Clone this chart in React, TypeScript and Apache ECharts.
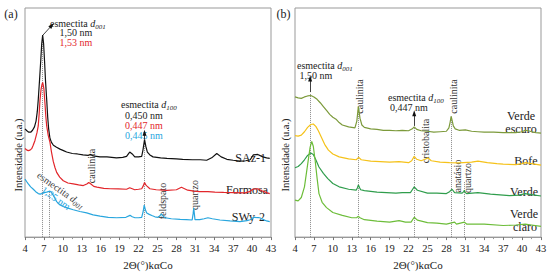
import React, { useEffect, useRef } from 'react';
import * as echarts from 'echarts';

const SERIF = "'Liberation Serif', 'Times New Roman', Times, serif";

// x axis: 2θ from 4 to 43, ticks every 3 (stored shifted by X0 so ticks start at a multiple of interval)
const X0 = 4;
const X_MAX = 43;
const X_INTERVAL = 3;
const Y_MAX = 237;

// Panel (a)
const saz1: [number, number][] = [
  [4.0, 112], [4.3, 110], [4.6, 108.5], [4.9, 108.5], [5.2, 110.5], [5.5, 114], [5.75, 120], [5.95, 130],
  [6.1, 142], [6.3, 162], [6.5, 183], [6.65, 200], [6.8, 209], [6.95, 200], [7.1, 182], [7.25, 162],
  [7.44, 142], [7.6, 124], [7.75, 112], [7.96, 102], [8.2, 98], [8.5, 95], [9.0, 93], [9.55, 91],
  [10.1, 89.5], [10.6, 88], [11.5, 86.5], [12.3, 86], [13.2, 85], [14.0, 84.5], [14.4, 85.5], [14.8, 84],
  [15.9, 83], [17.0, 83], [18.5, 82], [19.5, 82.5], [20.1, 83.5], [20.6, 88], [21.0, 86], [21.4, 83],
  [22.0, 83], [22.5, 83.5], [22.7, 90], [22.95, 101], [23.15, 94], [23.4, 88], [23.8, 85], [24.3, 83],
  [25.5, 82], [26.5, 81.5], [28.0, 81], [29.0, 80.5], [30.5, 80], [31.8, 80], [32.8, 79.5], [33.6, 82],
  [34.4, 86.5], [35.1, 83], [36.0, 80.5], [37.0, 79.5], [38.1, 78.5], [39.0, 79], [39.7, 80], [40.2, 85],
  [40.9, 85.5], [41.7, 83], [42.3, 82], [42.8, 81.5],
];
const formosa: [number, number][] = [
  [4.0, 91.7], [4.3, 90], [4.52, 89.5], [4.8, 90], [5.06, 91.5], [5.3, 95], [5.58, 100], [5.9, 108],
  [6.1, 115], [6.25, 128], [6.38, 142], [6.55, 153], [6.7, 158], [6.8, 160], [6.9, 157], [7.0, 153],
  [7.17, 138], [7.3, 125], [7.44, 115], [7.69, 105], [7.96, 98], [8.2, 88], [8.48, 78.3], [8.75, 72],
  [9.02, 67], [9.5, 62], [10.07, 58.3], [10.8, 56], [11.65, 55], [12.5, 54], [13.24, 53.3], [13.8, 55],
  [14.1, 56.5], [14.45, 55], [14.9, 52.5], [15.4, 51.7], [16.5, 50.5], [17.5, 50], [18.8, 49.8], [20.1, 49.5],
  [20.6, 51], [21.0, 50], [21.4, 49], [22.0, 49.5], [22.5, 50], [22.75, 53], [22.95, 56.5], [23.15, 54],
  [23.3, 53], [23.8, 50], [24.8, 49], [26.5, 48.3], [28.0, 49], [28.8, 51.5], [29.3, 50], [29.8, 48.5],
  [30.8, 47.5], [31.7, 47], [33.0, 47], [34.1, 46.5], [35.5, 46.2], [37.0, 46], [38.9, 45.7], [39.6, 47],
  [40.1, 49.5], [40.9, 50], [41.7, 47.5], [42.3, 46], [42.8, 45],
];
const swy2: [number, number][] = [
  [4.0, 60], [4.25, 57.5], [4.52, 55], [4.9, 52], [5.32, 49.5], [5.7, 47], [6.1, 45], [6.4, 44.5],
  [6.65, 45], [7.0, 46], [7.44, 46.5], [7.7, 47], [7.96, 47.5], [8.2, 46], [8.48, 43.3], [8.75, 40],
  [9.02, 36.7], [9.5, 33.5], [10.07, 31.7], [10.8, 30], [11.65, 28.3], [12.7, 26.5], [13.78, 25], [14.8, 23],
  [15.9, 21.7], [17.2, 20.5], [18.53, 20], [20.0, 20.5], [20.64, 22.5], [21.0, 21], [21.43, 20], [22.0, 20],
  [22.5, 20.5], [22.75, 27], [22.9, 33], [23.1, 28], [23.3, 25], [23.7, 23.5], [24.1, 22.3], [24.6, 21],
  [25.1, 20.5], [25.4, 22], [25.6, 24], [25.85, 22], [26.2, 20], [27.2, 19], [28.6, 18.3], [29.6, 18],
  [30.5, 17.7], [30.65, 24], [30.75, 30], [30.85, 24], [30.95, 18], [31.7, 18], [32.4, 19], [33.0, 20],
  [33.7, 19], [34.9, 17.7], [36.5, 16.8], [38.07, 16], [39.2, 17], [39.7, 18], [40.3, 20.5], [41.2, 20],
  [41.7, 18.5], [42.3, 16.7], [42.8, 16],
];

// Panel (b)
const verdeEscuro: [number, number][] = [
  [4.0, 145], [4.5, 144], [5.0, 143.5], [5.5, 145], [6.0, 146], [6.5, 146.5], [7.0, 145], [7.5, 142.5],
  [8.0, 139], [8.5, 135], [9.0, 131], [9.5, 127], [10.0, 124], [10.5, 122], [11.0, 118.5], [11.5, 116],
  [12.5, 114], [13.5, 113], [13.8, 120], [14.05, 135], [14.3, 123], [14.6, 116], [15.0, 113.5], [16.0, 112],
  [17.0, 111.5], [18.0, 110.5], [19.0, 110.5], [20.0, 110], [21.0, 110.5], [22.0, 110], [22.6, 112], [22.9, 114],
  [23.3, 111.5], [24.0, 110], [25.0, 109.5], [26.0, 108.5], [27.0, 109], [28.0, 109.5], [28.4, 113], [28.6, 119],
  [28.75, 125], [28.9, 121], [29.1, 115], [29.4, 112], [30.0, 110.5], [31.0, 111], [32.0, 109.5], [33.0, 109],
  [34.0, 108.5], [35.5, 108.5], [37.0, 108], [39.0, 108], [40.0, 109], [40.5, 110.5], [41.0, 110], [41.5, 109],
  [42.2, 108], [43.0, 107.5],
];
const bofe: [number, number][] = [
  [4.0, 105], [4.5, 104.5], [5.0, 105.5], [5.5, 109], [6.0, 113.5], [6.5, 116.5], [6.9, 117], [7.3, 114.5],
  [7.7, 110], [8.2, 103], [8.7, 96], [9.3, 90], [10.0, 86], [11.0, 83], [12.5, 81], [13.7, 80],
  [14.1, 82.5], [14.5, 80], [16.0, 78.5], [17.5, 78], [19.0, 77.5], [20.5, 78], [22.0, 77], [22.5, 79],
  [22.9, 83.5], [23.3, 80.5], [24.0, 79], [24.6, 80.5], [25.1, 82], [25.6, 79], [27.0, 77.5], [28.5, 77],
  [30.0, 76.7], [32.0, 77.5], [33.0, 78.5], [34.5, 77], [36.0, 76], [37.0, 75.5], [39.0, 75], [40.0, 76],
  [40.5, 77], [41.5, 76], [43.0, 74.5],
];
const verde: [number, number][] = [
  [4.0, 71.7], [4.5, 73], [5.0, 76], [5.5, 80], [6.0, 84.5], [6.5, 87], [6.9, 85.5], [7.3, 80],
  [7.8, 72.5], [8.5, 66], [9.2, 60.5], [10.0, 55.5], [11.0, 52], [12.5, 49.5], [13.7, 48.5], [13.9, 51],
  [14.05, 54], [14.25, 51], [14.4, 49], [15.0, 48], [17.0, 46.5], [20.0, 45.5], [21.0, 46], [22.3, 46],
  [22.6, 49], [22.9, 52], [23.4, 48.5], [25.0, 45.5], [26.5, 45.5], [28.0, 45], [28.5, 47], [28.9, 49.5],
  [29.3, 46], [30.5, 45.5], [30.75, 47], [30.85, 48.5], [31.0, 46], [31.2, 45], [33.0, 46], [35.0, 44.5],
  [38.0, 43], [39.5, 43.5], [40.5, 45], [41.5, 44], [43.0, 42.5],
];
const verdeClaro: [number, number][] = [
  [4.0, 38.3], [4.5, 37.5], [5.0, 41], [5.5, 52], [6.0, 75], [6.2, 84], [6.4, 93], [6.65, 99],
  [6.9, 94], [7.2, 79], [7.5, 61], [7.8, 45], [8.3, 36], [9.0, 30.5], [10.0, 25.5], [11.5, 22.5],
  [13.0, 20], [13.8, 20.2], [14.05, 21.5], [14.3, 20], [15.0, 18], [17.0, 16.5], [19.0, 15.5], [20.5, 17],
  [21.5, 15.5], [22.4, 15.5], [22.9, 20.5], [23.4, 17.5], [25.0, 15], [26.5, 14.5], [28.0, 13.5], [29.3, 15.5],
  [29.6, 13.5], [30.85, 15.5], [31.2, 13.5], [34.0, 13.5], [37.0, 12], [39.0, 12.5], [40.5, 13.5], [41.5, 12.5],
  [43.0, 11],
];

// reference lines [2θ, from, to]
const dottedA: [number, number, number][] = [[6.75, 0, 206], [7.85, 0, 47], [22.95, 0, 100]];
const arrowsA: [number, number, number, number][] = [[6.85, 209, 8.25, 219], [22.95, 101, 22.95, 108]];
const dottedB: [number, number, number][] = [[6.4, 0, 148], [14.05, 0, 134], [22.9, 0, 113], [28.8, 0, 124], [30.9, 0, 57]];
const arrowsB: [number, number, number, number][] = [[6.4, 150, 6.4, 164], [22.9, 115, 22.9, 128]];

const shift = (pts: [number, number][]) => pts.map(([t, h]) => [t - X0, h]);

const dottedData = (lines: [number, number, number][]) =>
  lines.map(([t, a, b]) => [
    { coord: [t - X0, a], symbol: 'none', lineStyle: { color: '#8a8a8a', type: 'dotted', width: 1 } },
    { coord: [t - X0, b], symbol: 'none' },
  ]);
const arrowData = (lines: [number, number, number, number][]) =>
  lines.map(([t1, a, t2, b]) => [
    { coord: [t1 - X0, a], symbol: 'none', lineStyle: { color: '#111', type: 'solid', width: 0.8 } },
    { coord: [t2 - X0, b], symbol: 'triangle', symbolSize: [4, 6] },
  ]);

const sub = (size = 10) => ({
  n: { fontSize: size, fontFamily: SERIF, lineHeight: 14, verticalAlign: 'middle' },
  i: { fontSize: size, fontFamily: SERIF, fontStyle: 'italic', lineHeight: 14, verticalAlign: 'middle' },
  s: { fontSize: size * 0.7, fontFamily: SERIF, fontStyle: 'italic', lineHeight: 8, verticalAlign: 'bottom' },
});

type TOpt = { size?: number; color?: string; align?: string; rot?: number; rich?: any };
const txt = (text: string, x: number, y: number, o: TOpt = {}) => ({
  type: 'text',
  x,
  y,
  rotation: o.rot || 0,
  silent: true,
  style: {
    text,
    fill: o.color || '#222',
    fontSize: o.size || 10,
    fontFamily: SERIF,
    textAlign: o.align || 'center',
    textVerticalAlign: 'middle',
    align: o.align || 'center',
    verticalAlign: 'middle',
    rich: o.rich,
  },
});
const richTxt = (x: number, y: number, subText: string, o: TOpt = {}) => {
  const r: any = sub(o.size || 10);
  Object.keys(r).forEach((k) => { r[k].fill = o.color || '#222'; r[k].color = o.color || '#222'; });
  return txt(`{n|esmectita }{i|d}{s|${subText}}`, x, y, { ...o, rich: r });
};

const RED = '#e2262b';
const BLUE = '#29a6de';
const V90 = Math.PI / 2;
const ROT = (-35 * Math.PI) / 180;

const makeXAxis = (gridIndex: number) => ({
  type: 'value',
  gridIndex,
  min: 0,
  max: X_MAX - X0,
  interval: X_INTERVAL,
  axisLine: { show: true, lineStyle: { color: '#999', width: 1 } },
  axisTick: { show: true, length: 3, lineStyle: { color: '#777' } },
  minorTick: { show: true, splitNumber: 2, length: 2, lineStyle: { color: '#999' } },
  splitLine: { show: false },
  axisLabel: {
    formatter: (v: number) => String(v + X0),
    fontSize: 10.5,
    color: '#222',
    fontFamily: SERIF,
    margin: 6,
  },
  name: '2Θ(°)kαCo',
  nameLocation: 'middle',
  nameGap: 21,
  nameTextStyle: { fontSize: 11, color: '#222', fontFamily: SERIF },
});

const line = (name: string, data: [number, number][], color: string, idx: number, markLine?: any) => ({
  name,
  type: 'line',
  xAxisIndex: idx,
  yAxisIndex: idx,
  data: shift(data),
  showSymbol: false,
  symbol: 'none',
  lineStyle: { color, width: 1.2 },
  itemStyle: { color },
  z: 3,
  markLine,
});

export default function App() {
  const ref = useRef<HTMLDivElement>(null);
  useEffect(() => {
    if (!ref.current) return;
    const chart = echarts.init(ref.current, undefined, { renderer: 'svg' });
    const mlA = {
      silent: true,
      animation: false,
      label: { show: false },
      symbol: ['none', 'none'],
      data: [...dottedData(dottedA), ...arrowData(arrowsA)],
      z: 2,
    };
    const mlB = {
      silent: true,
      animation: false,
      label: { show: false },
      symbol: ['none', 'none'],
      data: [...dottedData(dottedB), ...arrowData(arrowsB)],
      z: 2,
    };
    chart.setOption({
      animation: false,
      backgroundColor: '#fff',
      textStyle: { fontFamily: SERIF },
      grid: [
        { left: 25, top: 8, width: 246, height: Y_MAX, show: true, borderColor: '#999', borderWidth: 1, backgroundColor: 'transparent' },
        { left: 295, top: 8, width: 246, height: Y_MAX, show: true, borderColor: '#999', borderWidth: 1, backgroundColor: 'transparent' },
      ],
      xAxis: [makeXAxis(0), makeXAxis(1)],
      yAxis: [
        { type: 'value', gridIndex: 0, min: 0, max: Y_MAX, show: false },
        { type: 'value', gridIndex: 1, min: 0, max: Y_MAX, show: false },
      ],
      series: [
        line('SAz-1', saz1, '#111111', 0, mlA),
        line('Formosa', formosa, RED, 0),
        line('SWy-2', swy2, BLUE, 0),
        line('Verde escuro', verdeEscuro, '#7c9a3b', 1, mlB),
        line('Bofe', bofe, '#f5c21a', 1),
        line('Verde', verde, '#2f9d4c', 1),
        line('Verde claro', verdeClaro, '#6dbd3a', 1),
      ],
      graphic: [
        // panel (a)
        txt('(a)', 11, 14, { size: 12 }),
        txt('Intensidade (u.a.)', 18, 155, { rot: V90, size: 10.5 }),
        richTxt(50, 23, '001', { align: 'left' }),
        txt('1,50 nm', 76, 32.5),
        txt('1,53 nm', 76, 42, { color: RED }),
        richTxt(121, 104, '100', { align: 'left' }),
        txt('0,450 nm', 144, 115),
        txt('0,447 nm', 144, 125, { color: RED }),
        txt('0,445 nm', 144, 135, { color: BLUE }),
        txt('caulinita', 91, 166, { rot: V90, color: '#333' }),
        txt('feldspato', 162, 201, { rot: V90, color: '#333' }),
        txt('quartzo', 194.5, 195, { rot: V90, color: '#333' }),
        richTxt(61, 190, '001', { rot: ROT, color: '#444' }),
        txt('1,25 nm', 56, 198, { rot: ROT, color: BLUE }),
        txt('SAz-1', 266, 157.5, { size: 12, align: 'right' }),
        txt('Formosa', 268, 189.5, { size: 12, align: 'right' }),
        txt('SWy-2', 265, 217, { size: 12, align: 'right' }),
        // panel (b)
        txt('(b)', 283.5, 14, { size: 12 }),
        txt('Intensidade (u.a.)', 285, 155, { rot: V90, size: 10.5 }),
        richTxt(297, 65, '001', { align: 'left' }),
        txt('1,50 nm', 316, 75),
        richTxt(388, 97, '100', { align: 'left' }),
        txt('0,447 nm', 409, 107),
        txt('caulinita', 359.5, 96.5, { rot: V90, color: '#333' }),
        txt('caulinita', 453, 96.5, { rot: V90, color: '#333' }),
        txt('cristobalita', 425, 141, { rot: V90, color: '#333' }),
        txt('anatásio', 457.5, 176, { rot: V90, color: '#333' }),
        txt('quartzo', 467, 178, { rot: V90, color: '#333' }),
        txt('Verde', 521, 116, { size: 12 }),
        txt('escuro', 521, 129, { size: 12 }),
        txt('Bofe', 526, 160.5, { size: 12 }),
        txt('Verde', 524, 192, { size: 12 }),
        txt('Verde', 524, 213.5, { size: 12 }),
        txt('claro', 525, 226.5, { size: 12 }),
      ],
    });
    return () => chart.dispose();
  }, []);
  return (
    <div
      ref={ref}
      style={{ position: 'absolute', left: 0, top: 0, width: 550, height: 275, background: '#fff' }}
    />
  );
}
